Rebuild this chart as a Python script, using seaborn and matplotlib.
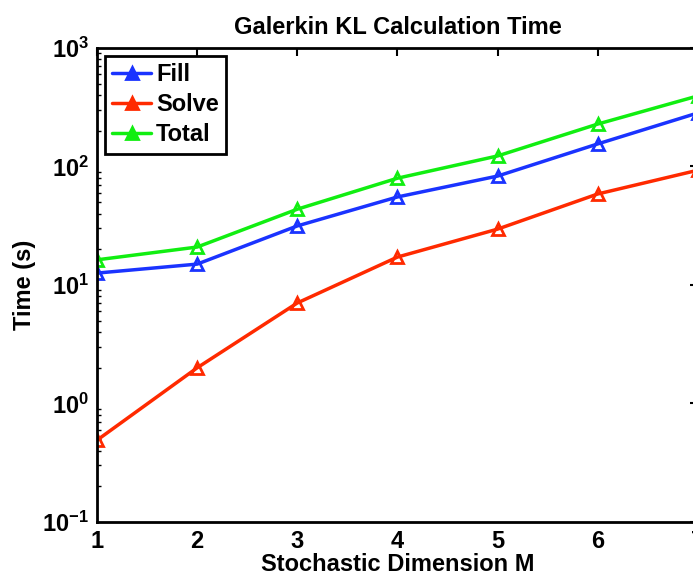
import numpy as np
import pandas as pd
import matplotlib
matplotlib.use("Agg")
import matplotlib.pyplot as plt
import seaborn as sns
from matplotlib.ticker import LogLocator, NullFormatter

M = [1, 2, 3, 4, 5, 6, 7]
fill = [12.6, 15.0, 31.5, 55.3, 83.0, 155.0, 283.0]
solve = [0.49, 2.0, 7.05, 17.2, 29.6, 58.6, 93.0]
total = [16.3, 20.9, 43.6, 79.6, 122.7, 228.0, 394.0]
series_names = ["Fill", "Solve", "Total"]
colors = ["#1a33ff", "#ff2a00", "#11ee11"]

df = pd.DataFrame({
    "M": M * 3,
    "Time": fill + solve + total,
    "Series": sum([[n] * len(M) for n in series_names], []),
})

sns.set_style("white")
plt.rcParams["font.family"] = ["Liberation Sans", "DejaVu Sans"]
plt.rcParams["font.weight"] = "bold"
plt.rcParams["mathtext.default"] = "bf"
for k in ["text.color", "axes.labelcolor", "xtick.color", "ytick.color"]:
    plt.rcParams[k] = "black"

fig = plt.figure(figsize=(6.93, 5.76), dpi=100)
ax = fig.add_axes([0.14, 0.0938, 0.867, 0.8229])

sns.lineplot(data=df, x="M", y="Time", hue="Series", palette=colors,
             marker="^", markersize=9, markerfacecolor="none",
             markeredgewidth=2.0, linewidth=2.5, ax=ax)
for line, c in zip(ax.lines, colors):
    line.set_markeredgecolor(c)

ax.set_yscale("log")
ax.set_ylim(0.1, 1000)
ax.set_xlim(1, 7)
ax.set_xticks(M)
ax.yaxis.set_major_locator(LogLocator(base=10, numticks=10))
ax.yaxis.set_minor_locator(LogLocator(base=10, subs=np.arange(2, 10), numticks=20))
ax.yaxis.set_minor_formatter(NullFormatter())
ax.tick_params(axis="both", which="major", direction="in", length=6, width=1.5,
               labelsize=17, top=True, right=True, pad=6)
ax.tick_params(axis="y", which="minor", direction="in", length=3, width=1,
               left=True, right=True)
for lab in ax.get_xticklabels() + ax.get_yticklabels():
    lab.set_fontweight("bold")
for s in ax.spines.values():
    s.set_linewidth(2)
    s.set_color("black")

ax.set_title("Galerkin KL Calculation Time", fontsize=17, fontweight="bold", pad=10)
ax.set_xlabel("Stochastic Dimension M", fontsize=17, fontweight="bold", labelpad=0)
ax.set_ylabel("Time (s)", fontsize=17, fontweight="bold", labelpad=4)

leg = ax.legend(loc="upper left", fontsize=17, frameon=True, fancybox=False,
                framealpha=1, borderpad=0.3, labelspacing=0.3, handlelength=1.65,
                handletextpad=0.2, borderaxespad=0.35)
leg.get_frame().set_edgecolor("black")
leg.get_frame().set_linewidth(2)
for h, c in zip(leg.legend_handles, colors):
    h.set_marker("^")
    h.set_markersize(8)
    h.set_markerfacecolor(c)
    h.set_markeredgecolor(c)
    h.set_linewidth(2.5)
for t in leg.get_texts():
    t.set_fontweight("bold")

fig.savefig("out.png", dpi=100)
